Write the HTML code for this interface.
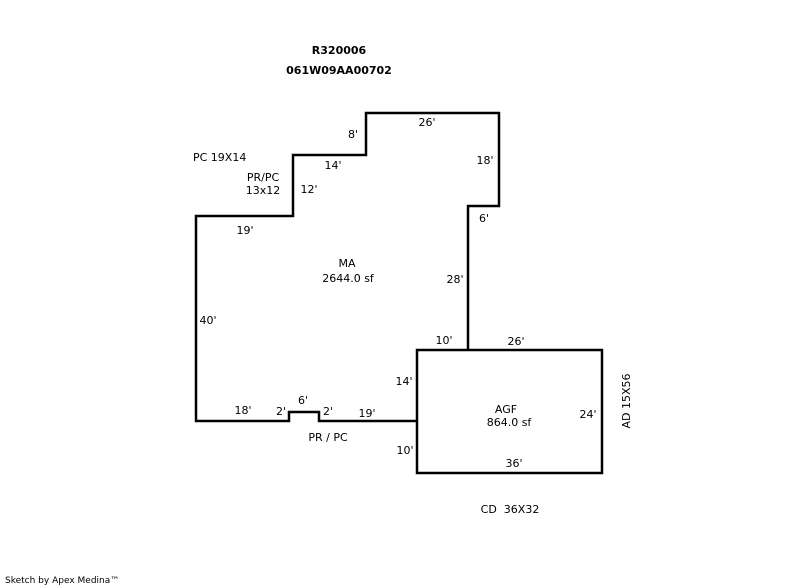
<!DOCTYPE html>
<html><head><meta charset="utf-8"><style>
html,body{margin:0;padding:0;background:#fff;}
svg{display:block;}
text{font-family:"DejaVu Sans","Liberation Sans",sans-serif;font-size:11px;fill:#000;}
</style></head><body>
<svg width="800" height="587" viewBox="0 0 800 587" xmlns="http://www.w3.org/2000/svg">
<g fill="none" stroke="#000" stroke-width="2.5">
<polyline points="416,421 319,421 319,412 289,412 289,421 196,421 196,216 293,216 293,155 366,155 366,113 499,113 499,206 468,206 468,350"/>
<rect x="417" y="350" width="185" height="123"/>
</g>
<g text-anchor="middle">
<text x="339" y="54" font-weight="bold">R320006</text>
<text x="339" y="74" font-weight="bold">061W09AA00702</text>
<text x="263" y="181">PR/PC</text>
<text x="263" y="194">13x12</text>
<text x="353" y="138">8'</text>
<text x="427" y="126">26'</text>
<text x="333" y="169">14'</text>
<text x="485" y="164">18'</text>
<text x="309" y="193">12'</text>
<text x="484" y="222">6'</text>
<text x="245" y="234">19'</text>
<text x="347" y="267">MA</text>
<text x="348" y="282">2644.0 sf</text>
<text x="455" y="283">28'</text>
<text x="208" y="324">40'</text>
<text x="444" y="344">10'</text>
<text x="516" y="345">26'</text>
<text x="404" y="385">14'</text>
<text x="243" y="414">18'</text>
<text x="281" y="415">2'</text>
<text x="303" y="404">6'</text>
<text x="328" y="415">2'</text>
<text x="367" y="417">19'</text>
<text x="328" y="441">PR / PC</text>
<text x="405" y="454">10'</text>
<text x="506" y="413">AGF</text>
<text x="509" y="426">864.0 sf</text>
<text x="588" y="418">24'</text>
<text x="514" y="467">36'</text>
<text x="510" y="513">CD&#160;&#160;36X32</text>
<text transform="translate(630,401) rotate(-90)">AD 15X56</text>
</g>
<text x="193" y="161">PC 19X14</text>
<text x="5" y="583" style="font-size:9px">Sketch by Apex Medina™</text>
</svg>
</body></html>
